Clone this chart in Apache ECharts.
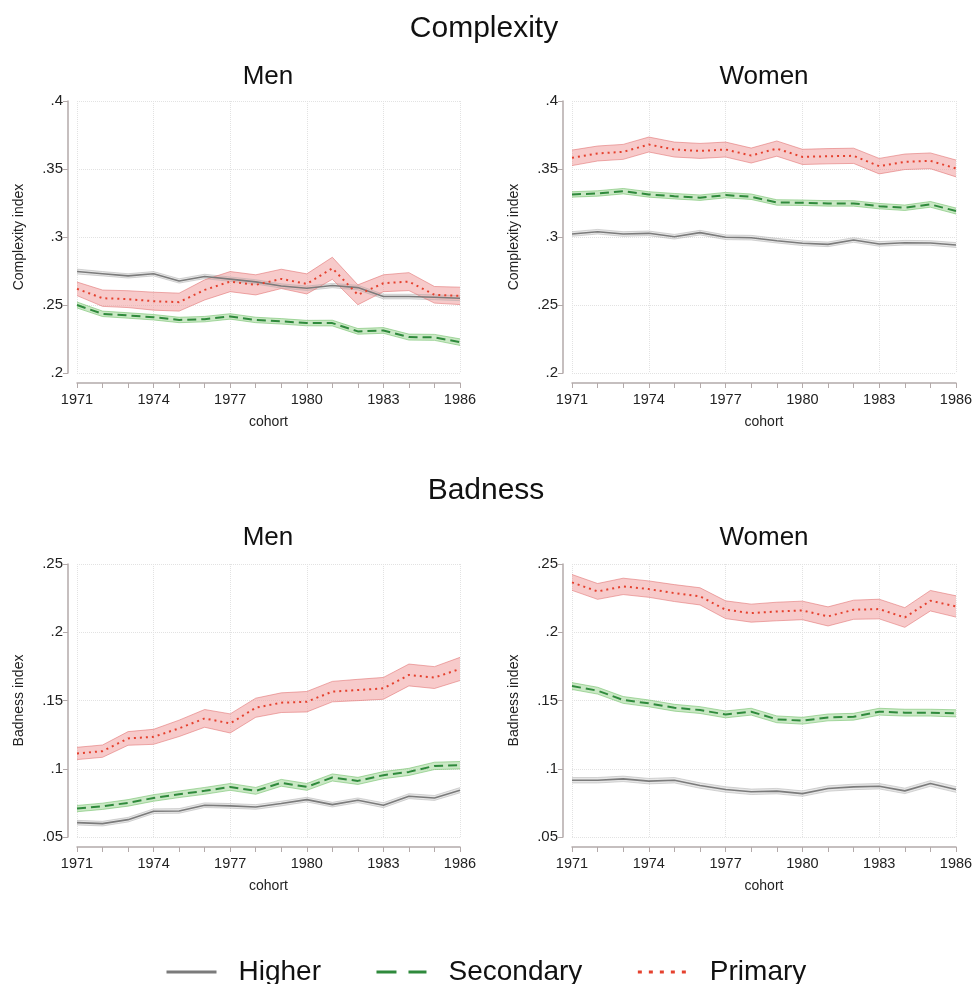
<!DOCTYPE html>
<html><head><meta charset="utf-8">
<script src="https://cdn.jsdelivr.net/npm/echarts@6/dist/echarts.min.js"></script>
<style>html,body{margin:0;padding:0;background:#fff}#c{width:976px;height:984px}</style>
</head><body><div id="c"></div>
<script>
// ---------- data ----------
const cohorts = ['1971','1972','1973','1974','1975','1976','1977','1978','1979','1980','1981','1982','1983','1984','1985','1986'];
const cohortLabels = ['1971','1974','1977','1980','1983','1986'];
const complexityTicks = [0.2, 0.25, 0.3, 0.35, 0.4];
const badnessTicks = [0.05, 0.1, 0.15, 0.2, 0.25];
const groupNames = ['Higher', 'Secondary', 'Primary'];
const sectionTitles = ['Complexity', 'Badness'];
const panelTitles = ['Men', 'Women'];

// Complexity - Men (mean, CI half-width)
const menCxHigher     = [0.2746,0.2730,0.2714,0.2730,0.2677,0.2710,0.2690,0.2670,0.2640,0.2623,0.2643,0.2628,0.2562,0.2562,0.2557,0.2550];
const menCxHigherCI   = [0.0018,0.0016,0.0016,0.0016,0.0016,0.0016,0.0016,0.0016,0.0016,0.0016,0.0016,0.0017,0.0017,0.0017,0.0018,0.0018];
const menCxSecondary  = [0.2500,0.2435,0.2423,0.2410,0.2390,0.2396,0.2416,0.2390,0.2380,0.2367,0.2367,0.2306,0.2313,0.2264,0.2262,0.2227];
const menCxSecondaryCI= [0.0022,0.0020,0.0020,0.0020,0.0020,0.0020,0.0020,0.0020,0.0020,0.0020,0.0021,0.0021,0.0021,0.0022,0.0022,0.0024];
const menCxPrimary    = [0.2619,0.2550,0.2543,0.2528,0.2521,0.2611,0.2672,0.2648,0.2692,0.2655,0.2770,0.2575,0.2660,0.2672,0.2575,0.2567];
const menCxPrimaryCI  = [0.0050,0.0060,0.0062,0.0066,0.0066,0.0074,0.0074,0.0074,0.0071,0.0074,0.0081,0.0073,0.0062,0.0066,0.0061,0.0064];

// Complexity - Women
const womenCxHigher     = [0.3022,0.3039,0.3022,0.3027,0.3002,0.3032,0.2998,0.2995,0.2973,0.2954,0.2946,0.2978,0.2949,0.2958,0.2956,0.2941];
const womenCxHigherCI   = [0.0017,0.0017,0.0017,0.0017,0.0017,0.0017,0.0017,0.0017,0.0017,0.0017,0.0017,0.0017,0.0017,0.0017,0.0017,0.0018];
const womenCxSecondary  = [0.3313,0.3320,0.3337,0.3313,0.3300,0.3289,0.3308,0.3296,0.3254,0.3252,0.3247,0.3247,0.3227,0.3215,0.3240,0.3191];
const womenCxSecondaryCI= [0.0020,0.0020,0.0020,0.0020,0.0020,0.0020,0.0020,0.0020,0.0020,0.0020,0.0020,0.0020,0.0020,0.0020,0.0021,0.0022];
const womenCxPrimary    = [0.3582,0.3614,0.3626,0.3680,0.3643,0.3633,0.3643,0.3599,0.3650,0.3589,0.3594,0.3597,0.3521,0.3553,0.3560,0.3504];
const womenCxPrimaryCI  = [0.0057,0.0055,0.0055,0.0055,0.0055,0.0055,0.0055,0.0055,0.0056,0.0056,0.0056,0.0056,0.0057,0.0057,0.0058,0.0062];

// Badness - Men
const menBdHigher     = [0.0605,0.0598,0.0627,0.0689,0.0691,0.0733,0.0728,0.0720,0.0745,0.0774,0.0737,0.0769,0.0733,0.0799,0.0786,0.0843];
const menBdHigherCI   = [0.0017,0.0017,0.0017,0.0017,0.0017,0.0017,0.0017,0.0017,0.0017,0.0017,0.0017,0.0017,0.0018,0.0018,0.0018,0.0019];
const menBdSecondary  = [0.0708,0.0725,0.0750,0.0786,0.0813,0.0838,0.0867,0.0838,0.0897,0.0867,0.0936,0.0911,0.0953,0.0977,0.1021,0.1026];
const menBdSecondaryCI= [0.0023,0.0023,0.0024,0.0024,0.0024,0.0025,0.0025,0.0025,0.0025,0.0025,0.0026,0.0026,0.0026,0.0026,0.0027,0.0027];
const menBdPrimary    = [0.1112,0.1129,0.1222,0.1234,0.1296,0.1369,0.1332,0.1447,0.1484,0.1491,0.1565,0.1577,0.1589,0.1687,0.1668,0.1731];
const menBdPrimaryCI  = [0.0045,0.0045,0.0050,0.0055,0.0060,0.0065,0.0070,0.0070,0.0072,0.0075,0.0075,0.0078,0.0080,0.0080,0.0080,0.0085];

// Badness - Women
const womenBdHigher     = [0.0916,0.0916,0.0926,0.0909,0.0916,0.0877,0.0848,0.0831,0.0836,0.0818,0.0855,0.0867,0.0872,0.0838,0.0892,0.0848];
const womenBdHigherCI   = [0.0020,0.0020,0.0020,0.0020,0.0020,0.0020,0.0020,0.0020,0.0020,0.0020,0.0020,0.0020,0.0020,0.0020,0.0021,0.0021];
const womenBdSecondary  = [0.1606,0.1572,0.1504,0.1479,0.1447,0.1430,0.1398,0.1418,0.1362,0.1352,0.1376,0.1381,0.1418,0.1411,0.1411,0.1406];
const womenBdSecondaryCI= [0.0025,0.0025,0.0025,0.0025,0.0025,0.0025,0.0025,0.0025,0.0025,0.0025,0.0025,0.0025,0.0025,0.0025,0.0025,0.0026];
const womenBdPrimary    = [0.2365,0.2299,0.2336,0.2316,0.2287,0.2263,0.2165,0.2140,0.2152,0.2160,0.2116,0.2165,0.2170,0.2108,0.2231,0.2189];
const womenBdPrimaryCI  = [0.0058,0.0058,0.0060,0.0060,0.0062,0.0063,0.0065,0.0066,0.0068,0.0068,0.0070,0.0070,0.0072,0.0072,0.0075,0.0078];

// ---------- layout / styles ----------
const FONT = 'Liberation Sans, Arial, Helvetica, sans-serif';
const grids = [
  {left: 77,  top: 101, width: 383, height: 272},
  {left: 572, top: 101, width: 384, height: 272},
  {left: 77,  top: 564, width: 383, height: 273},
  {left: 572, top: 564, width: 384, height: 273}
];
const panels = [
  {yName: 'Complexity index', ticks: complexityTicks, data: [[menCxHigher, menCxHigherCI],[menCxSecondary, menCxSecondaryCI],[menCxPrimary, menCxPrimaryCI]]},
  {yName: 'Complexity index', ticks: complexityTicks, data: [[womenCxHigher, womenCxHigherCI],[womenCxSecondary, womenCxSecondaryCI],[womenCxPrimary, womenCxPrimaryCI]]},
  {yName: 'Badness index', ticks: badnessTicks, data: [[menBdHigher, menBdHigherCI],[menBdSecondary, menBdSecondaryCI],[menBdPrimary, menBdPrimaryCI]]},
  {yName: 'Badness index', ticks: badnessTicks, data: [[womenBdHigher, womenBdHigherCI],[womenBdSecondary, womenBdSecondaryCI],[womenBdPrimary, womenBdPrimaryCI]]}
];
const styles = [
  {line: '#7b7b7b', width: 1.6, type: 'solid',  legendType: 'solid', fill: 'rgba(200,200,200,0.45)', edge: 'rgba(170,170,170,0.6)'},
  {line: '#2f8a3c', width: 2,   type: [9, 5],   legendType: [20, 12], fill: 'rgba(150,210,140,0.5)',  edge: 'rgba(110,190,100,0.7)'},
  {line: '#e5412e', width: 2,   type: [2, 4],   legendType: [4, 7],   fill: 'rgba(240,150,150,0.5)',  edge: 'rgba(225,110,110,0.7)'}
];

const xAxes = [], yAxes = [], series = [];
panels.forEach((p, i) => {
  xAxes.push({
    gridIndex: i, type: 'category', data: cohorts, boundaryGap: false, offset: 10,
    name: 'cohort', nameLocation: 'middle', nameGap: 32,
    nameTextStyle: {fontFamily: FONT, fontSize: 14, color: '#222'},
    axisLine: {lineStyle: {color: '#b3aaaa', width: 1.5}},
    axisTick: {interval: 0, length: 5, lineStyle: {color: '#b3aaaa'}},
    axisLabel: {interval: (idx, val) => cohortLabels.includes(val), fontFamily: FONT, fontSize: 14.5, color: '#222', margin: 9},
    splitLine: {show: true, interval: (idx, val) => cohortLabels.includes(val), lineStyle: {color: '#e2e2e2', type: 'dotted', width: 1}}
  });
  yAxes.push({
    gridIndex: i, type: 'value', min: p.ticks[0], max: p.ticks[p.ticks.length - 1],
    interval: +(p.ticks[1] - p.ticks[0]).toFixed(4), offset: 9,
    name: p.yName, nameLocation: 'middle', nameGap: 42,
    nameTextStyle: {fontFamily: FONT, fontSize: 14, color: '#222'},
    axisLine: {show: true, lineStyle: {color: '#b3aaaa', width: 1.5}},
    axisTick: {show: true, length: 5, lineStyle: {color: '#b3aaaa'}},
    axisLabel: {fontFamily: FONT, fontSize: 15, color: '#222', margin: 5,
      formatter: v => String(+v.toFixed(2)).replace(/^0\./, '.')},
    splitLine: {show: true, lineStyle: {color: '#e2e2e2', type: 'dotted', width: 1}}
  });
  p.data.forEach((d, k) => {
    const st = styles[k];
    const mean = d[0], ci = d[1];
    const lower = mean.map((m, j) => +(m - ci[j]).toFixed(5));
    const width = ci.map(c => +(2 * c).toFixed(5));
    series.push({
      type: 'line', xAxisIndex: i, yAxisIndex: i, stack: 'band' + i + '_' + k,
      data: lower, symbol: 'none', silent: true, z: 1,
      lineStyle: {color: st.edge, width: 0.8}
    });
    series.push({
      type: 'line', xAxisIndex: i, yAxisIndex: i, stack: 'band' + i + '_' + k,
      data: width, symbol: 'none', silent: true, z: 1,
      lineStyle: {color: st.edge, width: 0.8},
      areaStyle: {color: st.fill, opacity: 1}
    });
  });
  p.data.forEach((d, k) => {
    const st = styles[k];
    series.push({
      type: 'line', name: groupNames[k], xAxisIndex: i, yAxisIndex: i,
      data: d[0], symbol: 'none', z: 3, color: st.line,
      lineStyle: {color: st.line, width: st.width, type: st.type}
    });
  });
});

const titles = [
  {text: sectionTitles[0], left: 484, top: 29, size: 30},
  {text: panelTitles[0], left: 268, top: 77, size: 26},
  {text: panelTitles[1], left: 764, top: 77, size: 26},
  {text: sectionTitles[1], left: 486, top: 491, size: 30},
  {text: panelTitles[0], left: 268, top: 538, size: 26},
  {text: panelTitles[1], left: 764, top: 538, size: 26}
].map(t => ({
  text: t.text, left: t.left, top: t.top, textAlign: 'center', textVerticalAlign: 'middle', padding: 0,
  textStyle: {fontFamily: FONT, fontSize: t.size, fontWeight: 'normal', color: '#111'}
}));

const chart = echarts.init(document.getElementById('c'), null, {renderer: 'canvas'});
chart.setOption({
  backgroundColor: '#fff',
  animation: false,
  title: titles,
  grid: grids,
  xAxis: xAxes,
  yAxis: yAxes,
  legend: {
    data: groupNames.map((n, k) => ({name: n, lineStyle: {width: 3, type: styles[k].legendType}})),
    left: 160, top: 953, itemWidth: 50, itemHeight: 30, itemGap: 54,
    textStyle: {fontFamily: FONT, fontSize: 28, color: '#111', padding: [0, 0, 0, 17]},
    lineStyle: {width: 3},
    itemStyle: {opacity: 0}
  },
  series: series
});
</script></body></html>
